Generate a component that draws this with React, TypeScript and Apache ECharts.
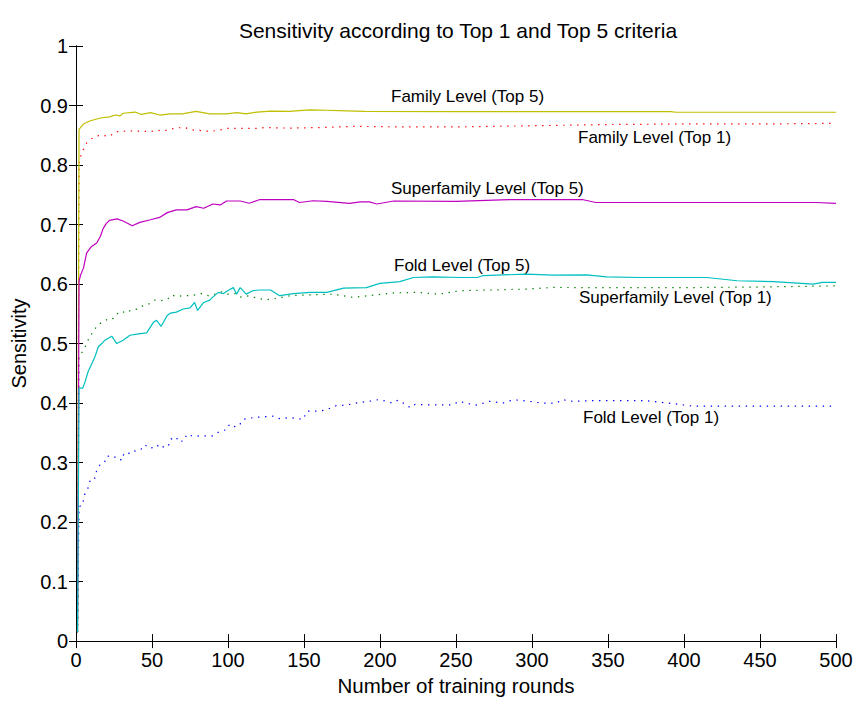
import React, { useEffect, useRef } from "react";
import * as echarts from "echarts";

// ---- data (training round, sensitivity) ----
const famTop5: number[][] = [
  [1, 0.015], [2, 0.86], [5, 0.869], [9, 0.874], [16, 0.879], [22, 0.881], [26, 0.884], [29, 0.8825],
  [31, 0.887], [39, 0.889], [43, 0.885], [49, 0.888], [55, 0.884], [62, 0.886], [70, 0.886], [79, 0.89],
  [88, 0.886], [99, 0.886], [106, 0.888], [112, 0.886], [119, 0.889], [128, 0.8907], [140, 0.89],
  [154, 0.8925], [165, 0.892], [178, 0.891], [190, 0.89], [250, 0.8897], [320, 0.8897], [391, 0.8897],
  [395, 0.8887], [500, 0.8887],
];

const famTop1: number[][] = [
  [1, 0.015], [2, 0.808], [5, 0.827], [7, 0.837], [10, 0.844], [14, 0.849], [17, 0.85], [22, 0.848],
  [26, 0.856], [29, 0.856], [34, 0.8575], [39, 0.857], [43, 0.857], [49, 0.856], [53, 0.859], [57, 0.857],
  [62, 0.86], [66, 0.8626], [72, 0.8626], [76, 0.859], [80, 0.8585], [86, 0.857], [90, 0.857], [95, 0.859],
  [99, 0.8615], [119, 0.8615], [124, 0.863], [140, 0.862], [160, 0.863], [184, 0.865], [214, 0.864],
  [250, 0.864], [300, 0.866], [350, 0.868], [400, 0.869], [450, 0.869], [500, 0.87],
];

const supTop5: number[][] = [
  [1, 0.017], [2, 0.605], [3, 0.615], [5, 0.6276], [7, 0.6525], [10, 0.6625], [13.6, 0.669], [16, 0.68],
  [18, 0.694], [20, 0.702], [22, 0.707], [27, 0.7096], [31, 0.706], [37, 0.698], [42, 0.7036], [49, 0.708],
  [55, 0.712], [60, 0.72], [66, 0.7246], [73, 0.7246], [79, 0.73], [84, 0.7273], [90, 0.7345], [95, 0.733],
  [99, 0.7395], [108, 0.7395], [114, 0.7357], [121, 0.742], [143, 0.742], [147, 0.737], [156, 0.74],
  [165, 0.739], [180, 0.7357], [187, 0.738], [193, 0.738], [198, 0.7345], [209, 0.7395], [250, 0.739],
  [285, 0.742], [333, 0.742], [342, 0.737], [358, 0.737], [487, 0.737], [500, 0.7357],
];

const supTop1: number[][] = [
  [1, 0.015], [2, 0.478], [5, 0.489], [7, 0.5], [9, 0.512], [11.4, 0.5195], [13.6, 0.529], [17, 0.536],
  [19, 0.5378], [22, 0.543], [24.6, 0.542], [27.8, 0.5517], [30, 0.5545], [33, 0.551], [36.6, 0.5567],
  [40, 0.5578], [43, 0.5628], [46.5, 0.564], [52, 0.573], [56, 0.572], [60, 0.574], [63, 0.5816],
  [66, 0.579], [71, 0.5805], [75, 0.5805], [79, 0.582], [83, 0.584], [87, 0.5805], [91.5, 0.583],
  [96, 0.587], [100, 0.583], [104.6, 0.584], [108, 0.578], [112, 0.5805], [116.6, 0.578], [121, 0.575],
  [128, 0.574], [141, 0.5805], [156, 0.582], [169, 0.583], [182, 0.5777], [193, 0.5805], [209, 0.585],
  [224, 0.586], [239, 0.583], [253, 0.589], [274, 0.59], [296, 0.5915], [314, 0.5943], [334, 0.594],
  [400, 0.594], [450, 0.595], [500, 0.597],
];

const foldTop5: number[][] = [
  [1, 0.015], [2, 0.425], [4.4, 0.425], [6, 0.436], [8, 0.453], [10, 0.464], [12.5, 0.478], [14.7, 0.4946],
  [17, 0.5], [19, 0.5057], [23.5, 0.5124], [26.8, 0.5], [31, 0.5057], [35.5, 0.514], [40, 0.5157],
  [46.5, 0.518], [51, 0.536], [53, 0.539], [56, 0.529], [60, 0.547], [62, 0.551], [66, 0.5528],
  [70.6, 0.558], [75, 0.56], [78, 0.569], [80, 0.5556], [84, 0.569], [88, 0.573], [90, 0.578],
  [93.6, 0.586], [97, 0.584], [100, 0.589], [103.5, 0.594], [105.7, 0.583], [108, 0.594], [112, 0.583],
  [116.6, 0.589], [121, 0.59], [128, 0.59], [134, 0.5805], [143, 0.584], [154, 0.586], [165, 0.586],
  [176, 0.593], [191, 0.594], [200, 0.601], [213, 0.604], [222, 0.611], [235, 0.612], [253, 0.611],
  [264, 0.611], [268, 0.6143], [296, 0.6165], [314, 0.615], [336, 0.6155], [349, 0.612], [371, 0.611],
  [415, 0.611], [435, 0.6055], [459, 0.604], [485, 0.6], [491, 0.6027], [500, 0.6027],
];

const foldTop1: number[][] = [
  [1, 0.015], [2, 0.226], [4.4, 0.2286], [5.3, 0.245], [7, 0.2507], [8.5, 0.262], [9.6, 0.273],
  [12.5, 0.274], [13.6, 0.2868], [15.8, 0.296], [18.6, 0.299], [20, 0.31], [22.8, 0.3117], [24.6, 0.309],
  [27.8, 0.309], [30, 0.3034], [31.6, 0.3156], [34.4, 0.3145], [36.6, 0.32], [40, 0.319], [43, 0.3228],
  [45.4, 0.33], [48, 0.324], [51, 0.3255], [53.5, 0.3295], [55, 0.324], [59, 0.328], [60.7, 0.327],
  [62, 0.339], [66, 0.343], [67.3, 0.335], [71, 0.3366], [73, 0.3477], [77, 0.344], [82, 0.345],
  [90, 0.345], [95, 0.3533], [99, 0.355], [101, 0.3644], [103.5, 0.3605], [107, 0.361], [110, 0.3727],
  [116.6, 0.3755], [123, 0.377], [130, 0.378], [134, 0.3738], [141, 0.3755], [149.5, 0.3727],
  [152, 0.3866], [160.5, 0.3866], [165, 0.389], [171.5, 0.396], [178, 0.3965], [184, 0.4], [193, 0.403],
  [199.5, 0.406], [204, 0.403], [208, 0.4], [212, 0.405], [216, 0.399], [220, 0.392], [223, 0.3977],
  [231, 0.397], [248, 0.397], [252, 0.403], [258, 0.399], [264, 0.3965], [272, 0.403], [281, 0.4],
  [284, 0.403], [289, 0.4053], [298, 0.403], [306, 0.4], [316, 0.4], [320, 0.406], [325, 0.403],
  [340, 0.404], [375, 0.404], [393, 0.399], [406, 0.3948], [500, 0.3948],
];

const seriesNames = [
  "Family Level (Top 5)",
  "Family Level (Top 1)",
  "Superfamily Level (Top 5)",
  "Fold Level (Top 5)",
  "Superfamily Level (Top 1)",
  "Fold Level (Top 1)",
];

const titleText = "Sensitivity according to Top 1 and Top 5 criteria";
const xAxisName = "Number of training rounds";
const yAxisName = "Sensitivity";

const FONT = "'Liberation Sans', Arial, Helvetica, sans-serif";

export default function App() {
  const ref = useRef<HTMLDivElement>(null);

  useEffect(() => {
    document.body.style.margin = "0";
    if (!ref.current) return;
    const chart = echarts.init(ref.current, null, { renderer: "svg" });

    const dotted = [1.4, 5.6];
    const solid = (name: string, data: number[][], color: string) => ({
      name,
      type: "line",
      data,
      showSymbol: false,
      symbol: "none",
      xAxisIndex: 0,
      yAxisIndex: 0,
      lineStyle: { color, width: 1.2, type: "solid" },
      z: 3,
    });
    const dots = (name: string, data: number[][], color: string) => ({
      name,
      type: "line",
      data,
      showSymbol: false,
      symbol: "none",
      xAxisIndex: 0,
      yAxisIndex: 0,
      lineStyle: { color, width: 1.2, type: dotted },
      z: 2,
    });

    const labelPos = [
      [391, 96],
      [578, 137],
      [391, 188],
      [394, 265],
      [579, 297],
      [583, 417],
    ];

    const axisCommon = {
      min: 0,
      splitLine: { show: false },
      axisLine: { show: true, lineStyle: { color: "#000", width: 1 } },
      axisTick: { show: true, inside: true, length: 7, lineStyle: { color: "#000" } },
    };

    chart.setOption({
      animation: false,
      backgroundColor: "#fff",
      title: {
        text: titleText,
        left: 453,
        top: 15,
        textAlign: "center",
        textStyle: { fontFamily: FONT, fontSize: 21, fontWeight: "normal", color: "#000" },
      },
      grid: { left: 76, right: 22, top: 46, bottom: 53.5, containLabel: false },
      xAxis: [
        {
          ...axisCommon,
          type: "value",
          max: 500,
          interval: 50,
          position: "bottom",
          name: xAxisName,
          nameLocation: "middle",
          nameGap: 31,
          nameTextStyle: { fontFamily: FONT, fontSize: 20.5, color: "#000" },
          axisLabel: { fontFamily: FONT, fontSize: 20, color: "#000", margin: 9 },
        },
        {
          ...axisCommon,
          type: "value",
          max: 500,
          interval: 50,
          position: "top",
          axisLabel: { show: false },
        },
      ],
      yAxis: [
        {
          ...axisCommon,
          type: "value",
          max: 1,
          interval: 0.1,
          position: "left",
          name: yAxisName,
          nameLocation: "middle",
          nameGap: 46,
          nameTextStyle: { fontFamily: FONT, fontSize: 20, color: "#000" },
          axisLabel: { fontFamily: FONT, fontSize: 20, color: "#000", margin: 8 },
        },
        {
          ...axisCommon,
          type: "value",
          max: 1,
          interval: 0.1,
          position: "right",
          axisLabel: { show: false },
        },
      ],
      series: [
        dots(seriesNames[1], famTop1, "#ff0000"),
        solid(seriesNames[0], famTop5, "#bfbf00"),
        dots(seriesNames[4], supTop1, "#008000"),
        solid(seriesNames[2], supTop5, "#bf00bf"),
        dots(seriesNames[5], foldTop1, "#0000ff"),
        solid(seriesNames[3], foldTop5, "#00bfbf"),
      ],
      graphic: seriesNames.map((t, i) => ({
        type: "text",
        x: labelPos[i][0],
        y: labelPos[i][1],
        silent: true,
        style: {
          text: t,
          fill: "#000",
          font: `17px ${FONT}`,
          textAlign: "left",
          textVerticalAlign: "middle",
        },
      })),
    });

    return () => chart.dispose();
  }, []);

  return <div ref={ref} style={{ width: 858, height: 701 }} />;
}
